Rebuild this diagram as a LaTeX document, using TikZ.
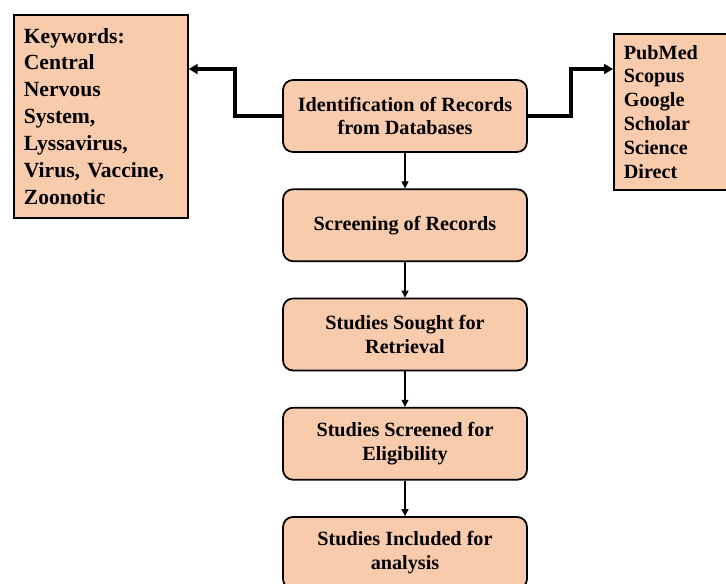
\documentclass[tikz,border=0pt]{standalone}
\usepackage{fontspec}
\setmainfont{Liberation Serif}
\usetikzlibrary{positioning,arrows.meta}
\definecolor{boxfill}{RGB}{248,203,173}

\begin{document}
\begin{tikzpicture}[x=0.02cm, y=-0.02cm, every node/.style={font=\bfseries\fontsize{11.5}{13.6}\selectfont}]
  \tikzstyle{stage}=[draw, line width=1pt, rounded corners=0.2cm, minimum width=4.88cm, minimum height=1.44cm, fill=boxfill, align=center]
  \tikzstyle{listbox}=[draw, line width=1pt, fill=boxfill, align=left, inner xsep=0.2cm, anchor=north west]
  \tikzstyle{flow}=[-{Triangle[length=4pt,width=4pt]}, line width=0.6pt]
  \tikzstyle{elbow}=[-{Triangle[length=5pt,width=5.5pt]}, line width=2.2pt]
  \clip (0,0) rectangle (726,583);
  \node[stage] (ident) at (405,116) {Identification of Records\\from Databases};
  \node[stage, below=0.71cm of ident] (screen) {Screening of Records};
  \node[stage, below=0.71cm of screen] (sought) {Studies Sought for\\Retrieval};
  \node[stage, below=0.71cm of sought] (elig) {Studies Screened for\\Eligibility};
  \node[stage, below=0.71cm of elig] (incl) {Studies Included for\\analysis};
  \node[listbox, text width=3.08cm, minimum height=4.06cm, font=\bfseries\fontsize{12.3}{15.3}\selectfont] (kw) at (13,14)
    {Keywords:\\Central\\Nervous\\System,\\Lyssavirus,\\Virus, Vaccine,\\Zoonotic};
  \node[listbox, text width=2.4cm, minimum height=3.12cm] (db) at (613,33)
    {PubMed\\Scopus\\Google\\Scholar\\Science\\Direct};
  \draw[flow] (ident) -- (screen);
  \draw[flow] (screen) -- (sought);
  \draw[flow] (sought) -- (elig);
  \draw[flow] (elig) -- (incl);
  \draw[elbow] (ident.west) -- ++(-0.94cm,0) |- ([yshift=-1.1cm]kw.north east);
  \draw[elbow] (ident.east) -- ++(0.86cm,0) |- ([yshift=-0.72cm]db.north west);
\end{tikzpicture}
\end{document}
